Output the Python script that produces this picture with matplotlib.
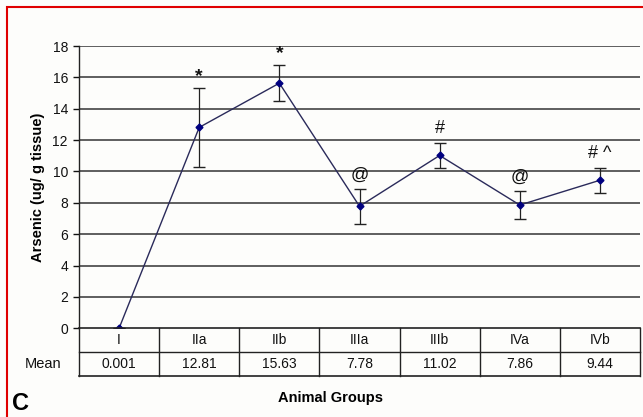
import matplotlib
matplotlib.use("Agg")
import matplotlib.pyplot as plt
from matplotlib.patches import Rectangle

plt.rcParams['font.family'] = ['Liberation Sans', 'DejaVu Sans']

groups = ["I", "IIa", "IIb", "IIIa", "IIIb", "IVa", "IVb"]
means = [0.001, 12.81, 15.63, 7.78, 11.02, 7.86, 9.44]
errors = [0.0, 2.53, 1.15, 1.1, 0.8, 0.9, 0.8]
mean_labels = ["0.001", "12.81", "15.63", "7.78", "11.02", "7.86", "9.44"]
marks = ["", "*", "*", "@", "#", "@", "# ^"]
yticks = [0, 2, 4, 6, 8, 10, 12, 14, 16, 18]

W, H = 643, 417
fig = plt.figure(figsize=(W / 100, H / 100), dpi=100)
fig.patch.set_facecolor("#fdfdfb")

def fx(px):
    return px / W

def fy(py):
    return 1 - py / H

# red frame
fig.patches.append(Rectangle((fx(7), fy(430)), fx(660) - fx(7), fy(6.5) - fy(430),
                             transform=fig.transFigure, fill=False,
                             edgecolor="#e00000", linewidth=1.5, zorder=0))

left, right = 79, 640
top, zero = 46, 328.3
ax = fig.add_axes([fx(left), fy(zero), fx(right) - fx(left), fy(top) - fy(zero)])
ax.set_facecolor("none")
x = [i + 0.5 for i in range(len(groups))]
ax.set_xlim(0, len(groups))
ax.set_ylim(0, 18)
for yv in yticks[1:]:
    ax.axhline(yv, color="#444444", lw=1.2, zorder=1)
ax.errorbar(x, means, yerr=errors, fmt="none", ecolor="#222222", elinewidth=0.9,
            capsize=4, capthick=1.0, zorder=3)
ax.plot(x, means, color="#2a2a5a", lw=1.0, marker="D", ms=3.5,
        mfc="#000080", mec="#000080", zorder=4)
for xi, m, e, s in zip(x, means, errors, marks):
    if s == "*":
        ax.text(xi, m + e + 0.2, s, ha="center", va="bottom", fontsize=14,
                fontweight="bold", color="#111111")
    elif s:
        ax.text(xi, m + e + 0.35, s, ha="center", va="bottom", fontsize=13,
                color="#111111")
ax.set_yticks(yticks)
ax.set_yticklabels([str(v) for v in yticks], fontsize=10)
ax.tick_params(axis="y", length=4, width=1.0, pad=4, colors="#111111")
ax.set_xticks([])
for sp in ["top", "right", "bottom"]:
    ax.spines[sp].set_visible(False)
ax.spines["left"].set_linewidth(1.0)
ax.spines["left"].set_color("#222222")
ax.set_ylabel("Arsenic (ug/ g tissue)", fontsize=10.5, fontweight="bold", labelpad=5)

# table below axis
tbot = 376
tax = fig.add_axes([fx(left), fy(tbot), fx(right) - fx(left), fy(zero) - fy(tbot)])
tax.set_xlim(0, len(groups))
tax.set_ylim(0, 2)
tax.axis("off")
tax.plot([0, len(groups)], [2, 2], color="#222222", lw=1.2, clip_on=False)
tax.plot([0, len(groups)], [1, 1], color="#222222", lw=1.0, clip_on=False)
tax.plot([0, len(groups)], [0, 0], color="#222222", lw=1.2, clip_on=False)
for i in range(len(groups) + 1):
    tax.plot([i, i], [0, 2], color="#222222", lw=1.0, clip_on=False)
for xi, g, ml in zip(x, groups, mean_labels):
    tax.text(xi, 1.5, g, ha="center", va="center", fontsize=10, color="#111111")
    tax.text(xi, 0.5, ml, ha="center", va="center", fontsize=10, color="#111111")
tax.text(-0.22, 0.5, "Mean", ha="right", va="center", fontsize=10.5, color="#111111")

fig.text(fx(330), fy(398), "Animal Groups", ha="center", va="center",
         fontsize=10.5, fontweight="bold")
fig.text(fx(12), fy(404), "C", ha="left", va="center", fontsize=17, fontweight="bold")

fig.savefig("out.png", dpi=100, facecolor=fig.get_facecolor())
